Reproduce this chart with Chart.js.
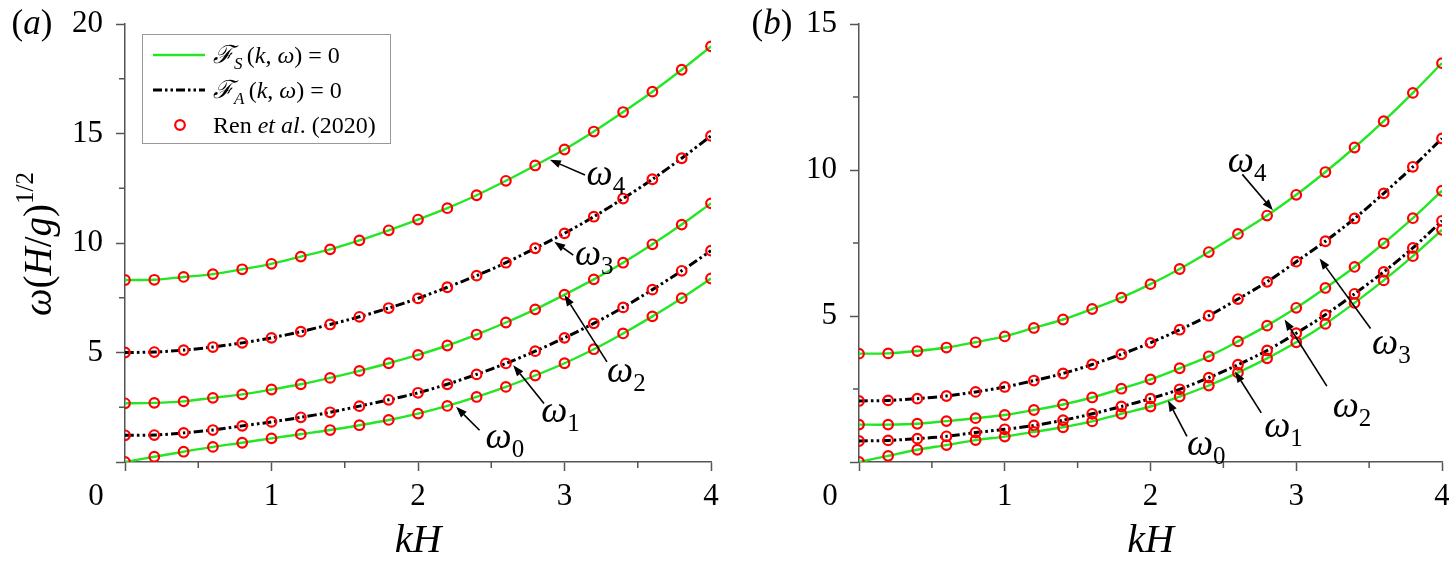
<!DOCTYPE html>
<html>
<head>
<meta charset="utf-8">
<script src="https://cdn.jsdelivr.net/npm/chart.js@4.4.1/dist/chart.umd.min.js"></script>
<style>
  html, body { margin: 0; padding: 0; background: #fff; }
  body { width: 1449px; height: 563px; position: relative; overflow: hidden; }
  #chartA { position: absolute; left: 0; top: 0; }
  #chartB { position: absolute; left: 725px; top: 0; }
</style>
</head>
<body>
<canvas id="chartA" width="725" height="563"></canvas>
<canvas id="chartB" width="724" height="563"></canvas>
<script>
// kH sample points (markers every 0.2)
const kH = [0, 0.2, 0.4, 0.6, 0.8, 1.0, 1.2, 1.4, 1.6, 1.8, 2.0, 2.2, 2.4, 2.6, 2.8, 3.0, 3.2, 3.4, 3.6, 3.8, 4.0];

// panel (a)
const aW0 = [0, 0.24, 0.47, 0.69, 0.88, 1.08, 1.27, 1.46, 1.68, 1.92, 2.21, 2.56, 2.97, 3.43, 3.95, 4.51, 5.15, 5.87, 6.65, 7.48, 8.38];
const aW1 = [1.22, 1.23, 1.33, 1.46, 1.65, 1.83, 2.04, 2.27, 2.55, 2.84, 3.16, 3.55, 4.00, 4.50, 5.06, 5.67, 6.33, 7.06, 7.87, 8.73, 9.65];
const aW2 = [2.68, 2.70, 2.77, 2.93, 3.09, 3.31, 3.55, 3.84, 4.16, 4.51, 4.89, 5.32, 5.82, 6.37, 6.97, 7.64, 8.34, 9.10, 9.94, 10.84, 11.81];
const aW3 = [5.00, 5.02, 5.11, 5.25, 5.44, 5.67, 5.95, 6.28, 6.63, 7.03, 7.47, 7.98, 8.51, 9.10, 9.76, 10.44, 11.20, 12.03, 12.91, 13.87, 14.89];
const aW4 = [8.31, 8.32, 8.45, 8.58, 8.80, 9.05, 9.38, 9.71, 10.12, 10.58, 11.07, 11.59, 12.18, 12.84, 13.54, 14.27, 15.09, 15.98, 16.91, 17.91, 18.98];

// panel (b)
const bW0 = [0, 0.21, 0.42, 0.58, 0.75, 0.87, 1.03, 1.19, 1.39, 1.65, 1.90, 2.24, 2.62, 3.06, 3.55, 4.10, 4.73, 5.45, 6.22, 7.05, 7.95];
const bW1 = [0.72, 0.74, 0.80, 0.88, 1.01, 1.12, 1.25, 1.43, 1.65, 1.90, 2.17, 2.49, 2.89, 3.33, 3.82, 4.41, 5.04, 5.76, 6.51, 7.33, 8.26];
const bW2 = [1.28, 1.28, 1.31, 1.40, 1.50, 1.61, 1.78, 1.97, 2.21, 2.51, 2.83, 3.21, 3.62, 4.13, 4.67, 5.28, 5.96, 6.68, 7.49, 8.35, 9.29];
const bW3 = [2.09, 2.11, 2.17, 2.26, 2.40, 2.57, 2.79, 3.03, 3.34, 3.69, 4.08, 4.53, 5.01, 5.58, 6.17, 6.86, 7.56, 8.34, 9.20, 10.11, 11.08];
const bW4 = [3.71, 3.72, 3.80, 3.92, 4.10, 4.30, 4.59, 4.88, 5.24, 5.63, 6.09, 6.61, 7.19, 7.81, 8.44, 9.15, 9.93, 10.77, 11.67, 12.64, 13.66];

const xTicks = [0, 1, 2, 3, 4];
const yTicksA = [0, 5, 10, 15, 20];
const yTicksB = [0, 5, 10, 15];

// arrow annotations: [subscript, labelX, labelY, tailX, tailY, tipX, tipY]
const notesA = [
    ["4", 3.24, 13.0, 3.14, 13.11, 2.90, 13.80],
    ["3", 3.16, 9.38, 3.06, 9.45, 2.93, 10.06],
    ["2", 3.38, 4.04, 3.29, 4.57, 3.00, 7.62],
    ["1", 2.93, 2.21, 2.86, 2.67, 2.65, 4.42],
    ["0", 2.55, 0.99, 2.42, 1.45, 2.26, 2.52]
];
const notesB = [
    ["4", 2.62, 10.2, 2.63, 9.85, 2.84, 8.62],
    ["3", 3.61, 3.96, 3.51, 4.57, 3.16, 6.97],
    ["2", 3.34, 1.81, 3.21, 2.60, 2.92, 4.88],
    ["1", 2.87, 1.13, 2.76, 1.68, 2.58, 3.10],
    ["0", 2.34, 0.52, 2.25, 0.88, 2.12, 2.11]
];

const FONT = "'Liberation Serif','DejaVu Serif',serif";
const GREEN = "rgb(36,230,36)";
const AXIS = "#555";
const DASH = [9, 3, 2.5, 3, 2.5, 3];

function it(s) { return "italic " + s + "px " + FONT; }
function rm(s) { return s + "px " + FONT; }

/**********/
function runsWidth(ctx, runs)
{
    let w = 0;
    for (let r of runs) { ctx.font = r.font; w += ctx.measureText(r.t).width; }
    return w;
}

/**********/
function drawRuns(ctx, x, y, runs, align)
{
    let w = runsWidth(ctx, runs);
    let cx = x;
    if (align === "center") { cx = x - w / 2; }
    if (align === "right") { cx = x - w; }
    ctx.textAlign = "left";
    ctx.textBaseline = "alphabetic";
    for (let r of runs)
    {
        ctx.font = r.font;
        ctx.fillText(r.t, cx, y + (r.dy || 0));
        cx += ctx.measureText(r.t).width;
    }
}

/**********/
function arrow(ctx, x0, y0, x1, y1)
{
    let ang = Math.atan2(y1 - y0, x1 - x0);
    let len = 11, half = 4;
    let bx = x1 - len * Math.cos(ang), by = y1 - len * Math.sin(ang);
    ctx.beginPath();
    ctx.moveTo(x0, y0);
    ctx.lineTo(bx, by);
    ctx.stroke();
    ctx.beginPath();
    ctx.moveTo(x1, y1);
    ctx.lineTo(bx + half * Math.sin(ang), by - half * Math.cos(ang));
    ctx.lineTo(bx - half * Math.sin(ang), by + half * Math.cos(ang));
    ctx.closePath();
    ctx.fill();
}

/**********/
function makeSeries(values, sym)
{
    let pts = [];
    for (let i = 0; i < kH.length; i++) { pts.push({ x: kH[i], y: values[i] }); }
    return {
        data: pts,
        borderColor: sym ? GREEN : "#000",
        borderWidth: sym ? 2.4 : 3,
        borderDash: sym ? [] : DASH,
        tension: 0.3,
        pointRadius: 4.8,
        pointBorderWidth: 2.2,
        pointBorderColor: "#ff0000",
        pointBackgroundColor: "rgba(0,0,0,0)"
    };
}

/**********/
function makeChart(id, series, yTicks, notes, panel, yWidth, padRight)
{
    const deco = {
        id: "deco",
        afterDraw(chart)
        {
            let ctx = chart.ctx;
            let xs = chart.scales.x, ys = chart.scales.y;
            let area = chart.chartArea;
            ctx.save();

            // minor ticks
            ctx.strokeStyle = AXIS;
            ctx.lineWidth = 1.5;
            for (let i = 0; i < xTicks.length - 1; i++)
            {
                let px = xs.getPixelForValue((xTicks[i] + xTicks[i + 1]) / 2);
                ctx.beginPath(); ctx.moveTo(px, area.bottom); ctx.lineTo(px, area.bottom + 6); ctx.stroke();
            }
            for (let i = 0; i < yTicks.length - 1; i++)
            {
                let py = ys.getPixelForValue((yTicks[i] + yTicks[i + 1]) / 2);
                ctx.beginPath(); ctx.moveTo(area.left, py); ctx.lineTo(area.left - 6, py); ctx.stroke();
            }

            // arrows and omega labels
            ctx.fillStyle = "#000";
            ctx.strokeStyle = "#000";
            ctx.lineWidth = 1.6;
            for (let n of notes)
            {
                arrow(ctx, xs.getPixelForValue(n[3]), ys.getPixelForValue(n[4]),
                           xs.getPixelForValue(n[5]), ys.getPixelForValue(n[6]));
                ctx.font = it(37);
                let ww = ctx.measureText("ω").width;
                drawRuns(ctx, xs.getPixelForValue(n[1]) - ww / 2, ys.getPixelForValue(n[2]) + 8,
                    [{ t: "ω", font: it(37) }, { t: n[0], font: rm(25), dy: 9 }], "left");
            }

            // corner zero
            ctx.font = rm(31);
            ctx.textAlign = "center";
            ctx.textBaseline = "alphabetic";
            ctx.fillText("0", area.left - 29, area.bottom + 43);

            // panel letter
            drawRuns(ctx, panel === "a" ? 32 : 47, 34,
                [{ t: "(", font: rm(35) }, { t: panel, font: it(35) }, { t: ")", font: rm(35) }], "center");

            // x title
            drawRuns(ctx, (area.left + area.right) / 2, 552,
                [{ t: "kH", font: it(40) }], "center");

            if (panel === "a")
            {
                // y title
                ctx.save();
                ctx.translate(51, 244);
                ctx.rotate(-Math.PI / 2);
                drawRuns(ctx, 0, 0, [
                    { t: "ω", font: it(39) }, { t: "(", font: rm(39) }, { t: "H", font: it(39) },
                    { t: "/", font: rm(39) }, { t: "g", font: it(39) }, { t: ")", font: rm(39) },
                    { t: "1/2", font: rm(25), dy: -18 }
                ], "center");
                ctx.restore();

                // legend
                let lx = area.left + 17, ly = area.top + 10;
                ctx.strokeStyle = "#999";
                ctx.lineWidth = 1;
                ctx.strokeRect(lx + 0.5, ly + 0.5, 248, 109);

                ctx.strokeStyle = GREEN;
                ctx.lineWidth = 2.4;
                ctx.beginPath(); ctx.moveTo(lx + 11, ly + 21); ctx.lineTo(lx + 63, ly + 21); ctx.stroke();

                ctx.strokeStyle = "#000";
                ctx.lineWidth = 3;
                ctx.setLineDash(DASH);
                ctx.beginPath(); ctx.moveTo(lx + 11, ly + 56); ctx.lineTo(lx + 63, ly + 56); ctx.stroke();
                ctx.setLineDash([]);

                ctx.strokeStyle = "#ff0000";
                ctx.lineWidth = 2.2;
                ctx.beginPath(); ctx.arc(lx + 38, ly + 91, 4.8, 0, Math.PI * 2); ctx.stroke();

                ctx.fillStyle = "#000";
                let tx = lx + 71;
                drawRuns(ctx, tx, ly + 29, [
                    { t: "ℱ", font: it(25) }, { t: "S ", font: it(17), dy: 6 }, { t: "(", font: rm(24) },
                    { t: "k", font: it(24) }, { t: ", ", font: rm(24) }, { t: "ω", font: it(24) },
                    { t: ") = 0", font: rm(24) }
                ], "left");
                drawRuns(ctx, tx, ly + 64, [
                    { t: "ℱ", font: it(25) }, { t: "A ", font: it(17), dy: 6 }, { t: "(", font: rm(24) },
                    { t: "k", font: it(24) }, { t: ", ", font: rm(24) }, { t: "ω", font: it(24) },
                    { t: ") = 0", font: rm(24) }
                ], "left");
                drawRuns(ctx, tx, ly + 99, [
                    { t: "Ren ", font: rm(24) }, { t: "et al", font: it(24) }, { t: ". (2020)", font: rm(24) }
                ], "left");
            }
            ctx.restore();
        }
    };

    return new Chart(document.getElementById(id), {
        type: "line",
        data: { datasets: series },
        plugins: [deco],
        options: {
            responsive: false,
            animation: false,
            layout: { padding: { top: 24, right: padRight, bottom: 0, left: 0 } },
            plugins: { legend: { display: false }, tooltip: { enabled: false } },
            scales: {
                x: {
                    type: "linear",
                    min: xTicks[0],
                    max: xTicks[xTicks.length - 1],
                    afterBuildTicks(s) { s.ticks = xTicks.map(v => ({ value: v })); },
                    ticks: {
                        color: "#000",
                        font: { family: FONT, size: 31 },
                        padding: 7,
                        maxRotation: 0,
                        autoSkip: false,
                        callback: v => (v === 0 ? "" : v)
                    },
                    grid: { drawOnChartArea: false, drawTicks: true, tickLength: 9, tickColor: AXIS, tickWidth: 1.5 },
                    border: { display: true, color: AXIS, width: 1.5 },
                    afterFit(s) { s.height = 101; s.paddingLeft = 0; s.paddingRight = 0; }
                },
                y: {
                    type: "linear",
                    min: yTicks[0],
                    max: yTicks[yTicks.length - 1],
                    afterBuildTicks(s) { s.ticks = yTicks.map(v => ({ value: v })); },
                    ticks: {
                        color: "#000",
                        font: { family: FONT, size: 31 },
                        padding: 13,
                        callback: v => (v === 0 ? "" : v)
                    },
                    grid: { drawOnChartArea: false, drawTicks: true, tickLength: 9, tickColor: AXIS, tickWidth: 1.5 },
                    border: { display: true, color: AXIS, width: 1.5 },
                    afterFit(s) { s.width = yWidth; s.paddingTop = 0; s.paddingBottom = 0; }
                }
            }
        }
    });
}

makeChart("chartA",
    [makeSeries(aW0, true), makeSeries(aW1, false), makeSeries(aW2, true), makeSeries(aW3, false), makeSeries(aW4, true)],
    yTicksA, notesA, "a", 125, 14);

makeChart("chartB",
    [makeSeries(bW0, true), makeSeries(bW1, false), makeSeries(bW2, true), makeSeries(bW3, false), makeSeries(bW4, true)],
    yTicksB, notesB, "b", 134, 4);
</script>
</body>
</html>
